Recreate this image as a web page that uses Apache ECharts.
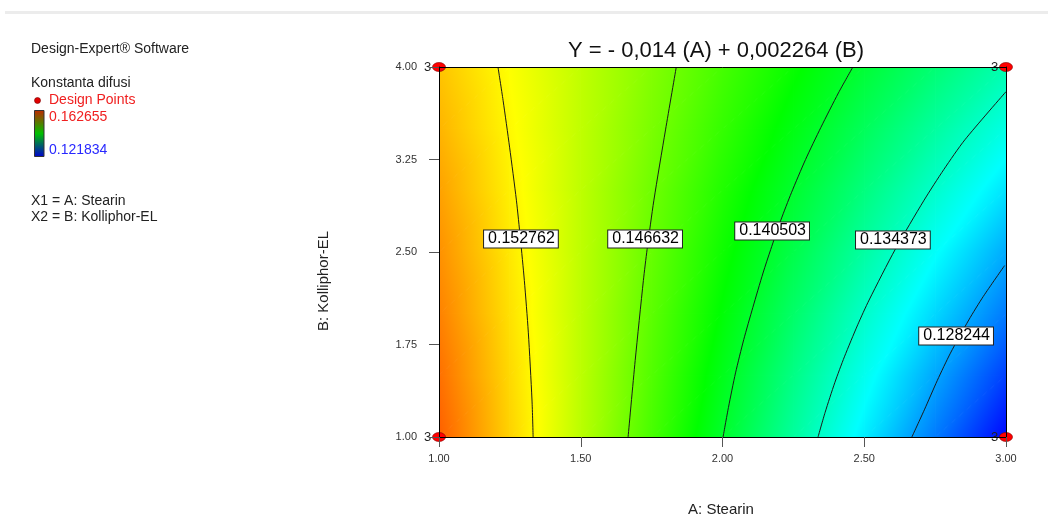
<!DOCTYPE html>
<html><head><meta charset="utf-8">
<script src="https://cdn.jsdelivr.net/npm/echarts@6/dist/echarts.min.js"></script>
<style>html,body{margin:0;padding:0;background:#fff}#c{width:1048px;height:518px}</style>
</head><body><div id="c"></div>
<script>
// ---- data ----
const stearinGrid = [1.00, 1.25, 1.50, 1.75, 2.00, 2.25, 2.50, 2.75, 3.00];
const kolliphorGrid = [1.0, 1.5, 2.0, 2.5, 3.0, 3.5, 4.0];
// response (Konstanta difusi) at each grid node, one row per Kolliphor level
const responseB10 = [0.15884, 0.15426, 0.14968, 0.14510, 0.14050, 0.13595, 0.13136, 0.12674, 0.12211];
const responseB15 = [0.15820, 0.15398, 0.14977, 0.14553, 0.14124, 0.13695, 0.13271, 0.12853, 0.12435];
const responseB20 = [0.15750, 0.15365, 0.14980, 0.14594, 0.14206, 0.13814, 0.13420, 0.13046, 0.12671];
const responseB25 = [0.15688, 0.15336, 0.14985, 0.14633, 0.14280, 0.13931, 0.13576, 0.13223, 0.12869];
const responseB30 = [0.15621, 0.15303, 0.14986, 0.14669, 0.14354, 0.14040, 0.13724, 0.13408, 0.13092];
const responseB35 = [0.15547, 0.15269, 0.14991, 0.14713, 0.14433, 0.14152, 0.13870, 0.13588, 0.13306];
const responseB40 = [0.15484, 0.15238, 0.14993, 0.14748, 0.14502, 0.14257, 0.14011, 0.13766, 0.13520];
const responseMin = 0.121834;
const responseMax = 0.162655;

const contourLevels = [0.152762, 0.146632, 0.140503, 0.134373, 0.128244];
const contour1 = [[1.208,4.00],[1.226,3.73],[1.249,3.35],[1.273,2.92],[1.287,2.61],[1.301,2.27],[1.315,1.85],[1.328,1.30],[1.332,1.00]];
const contour2 = [[1.837,4.00],[1.799,3.49],[1.758,2.92],[1.734,2.52],[1.721,2.27],[1.692,1.62],[1.667,1.00]];
const contour3 = [[2.460,4.00],[2.409,3.79],[2.347,3.51],[2.293,3.25],[2.243,2.98],[2.206,2.76],[2.170,2.52],[2.143,2.33],[2.107,2.05],[2.075,1.79],[2.046,1.52],[2.021,1.24],[2.002,1.00]];
const contour4 = [[3.000,3.80],[2.855,3.41],[2.781,3.17],[2.711,2.92],[2.609,2.52],[2.517,2.11],[2.477,1.91],[2.430,1.65],[2.396,1.44],[2.362,1.20],[2.337,1.00]];
const contour5 = [[2.995,2.39],[2.920,2.14],[2.869,1.95],[2.804,1.68],[2.758,1.46],[2.712,1.22],[2.668,1.00]];
const contourLabelA = [1.289, 1.727, 2.175, 2.601, 2.824];
const contourLabelB = [2.605, 2.605, 2.670, 2.597, 1.819];

const designA = [1, 3, 1, 3];
const designB = [1, 1, 4, 4];
const designReplicates = [3, 3, 3, 3];

// ---- build tables ----
const responseRows = [responseB10, responseB15, responseB20, responseB25, responseB30, responseB35, responseB40];
const triangles = [];
for (let j = 0; j < kolliphorGrid.length - 1; j++) {
  for (let i = 0; i < stearinGrid.length - 1; i++) {
    const a0 = stearinGrid[i], a1 = stearinGrid[i+1], b0 = kolliphorGrid[j], b1 = kolliphorGrid[j+1];
    const v00 = responseRows[j][i], v10 = responseRows[j][i+1], v01 = responseRows[j+1][i], v11 = responseRows[j+1][i+1];
    triangles.push([a0,b0,v00, a1,b0,v10, a1,b1,v11]);
    triangles.push([a0,b0,v00, a1,b1,v11, a0,b1,v01]);
  }
}
const cmapStops = [[0,[0,0,255]],[0.25,[0,255,255]],[0.5,[0,255,0]],[0.75,[255,255,0]],[1,[255,0,0]]];
function colorOf(v) {
  let t = (v - responseMin) / (responseMax - responseMin);
  t = Math.max(0, Math.min(1, t));
  for (let k = 0; k < cmapStops.length - 1; k++) {
    const [t0, c0] = cmapStops[k], [t1, c1] = cmapStops[k+1];
    if (t <= t1) {
      const f = (t - t0) / (t1 - t0);
      return 'rgb(' + c0.map((c, n) => Math.round(c + (c1[n] - c) * f)).join(',') + ')';
    }
  }
  return 'rgb(255,0,0)';
}
function renderTri(params, api) {
  const P = [], V = [];
  for (let k = 0; k < 3; k++) {
    P.push(api.coord([api.value(3*k), api.value(3*k+1)]));
    V.push(api.value(3*k+2));
  }
  const dx1 = P[1][0]-P[0][0], dy1 = P[1][1]-P[0][1], dv1 = V[1]-V[0];
  const dx2 = P[2][0]-P[0][0], dy2 = P[2][1]-P[0][1], dv2 = V[2]-V[0];
  const det = dx1*dy2 - dx2*dy1;
  const gb = (dv1*dy2 - dv2*dy1) / det, gc = (dx1*dv2 - dx2*dv1) / det;
  const gm = Math.hypot(gb, gc);
  let fill;
  if (gm < 1e-12) fill = colorOf(V[0]);
  else {
    const ux = gb/gm, uy = gc/gm;
    const s = P.map(p => p[0]*ux + p[1]*uy);
    let imin = 0, imax = 0;
    for (let k = 1; k < 3; k++) { if (s[k] < s[imin]) imin = k; if (s[k] > s[imax]) imax = k; }
    const L = s[imax] - s[imin];
    const vs = V[imin], ve = vs + gm * L;
    const stops = [{offset:0, color: colorOf(vs)}, {offset:1, color: colorOf(ve)}];
    [0.25,0.5,0.75].forEach(t => {
      const vb = responseMin + t*(responseMax-responseMin);
      if (vb > vs && vb < ve) stops.push({offset:(vb-vs)/(ve-vs), color: colorOf(vb)});
    });
    stops.sort((x,y) => x.offset - y.offset);
    const x0 = P[imin][0], y0 = P[imin][1];
    fill = new echarts.graphic.LinearGradient(x0, y0, x0 + ux*L, y0 + uy*L, stops, true);
  }
  return {type:'polygon', shape:{points:P}, style:{fill:fill, stroke:fill, lineWidth:1}};
}
const contours = [contour1, contour2, contour3, contour4, contour5];
const labelData = contourLevels.map((lv, k) => [contourLabelA[k], contourLabelB[k], lv]);
const designData = designA.map((a, k) => [a, designB[k], designReplicates[k]]);

const FONT = 'Liberation Sans, Arial, sans-serif';
const chart = echarts.init(document.getElementById('c'), null, {renderer:'canvas'});
const lineSeries = contours.map(c => ({
  type:'line', data:c, smooth:0.25, showSymbol:false, symbol:'none', z:3, silent:true,
  lineStyle:{color:'#1a1a1a', width:1}, animation:false
}));
chart.setOption({
  animation:false,
  textStyle:{fontFamily:FONT},
  grid:{left:439, right:42, top:67, bottom:81},
  xAxis:[{
    type:'value', min:1, max:3, interval:0.5, z:10,
    axisLine:{show:true, lineStyle:{color:'#000', width:1}},
    axisTick:{show:true, length:10, lineStyle:{color:'#555'}},
    axisLabel:{formatter:v => v.toFixed(2), fontSize:11, color:'#333', margin:16, fontFamily:FONT},
    splitLine:{show:false}
  },{
    type:'value', position:'top', min:1, max:3, z:10,
    axisLine:{show:true, lineStyle:{color:'#000', width:1}},
    axisTick:{show:false}, axisLabel:{show:false}, splitLine:{show:false}
  }],
  yAxis:[{
    type:'value', min:1, max:4, interval:0.75, z:10,
    axisLine:{show:true, lineStyle:{color:'#000', width:1}},
    axisTick:{show:true, length:10, lineStyle:{color:'#555'}},
    axisLabel:{formatter:v => v.toFixed(2), fontSize:11, color:'#333', margin:22, fontFamily:FONT},
    splitLine:{show:false}
  },{
    type:'value', position:'right', min:1, max:4, z:10,
    axisLine:{show:true, lineStyle:{color:'#000', width:1}},
    axisTick:{show:false}, axisLabel:{show:false}, splitLine:{show:false}
  }],
  graphic:[
    {type:'rect', shape:{x:5, y:11, width:1043, height:3}, style:{fill:'#ececec'}, silent:true},
    {type:'text', x:716, y:51, style:{text:'Y = - 0,014 (A) + 0,002264 (B)', font:'22px ' + FONT, fill:'#111', align:'center', verticalAlign:'middle'}},
    {type:'text', x:31, y:49, style:{text:'Design-Expert® Software', font:'14px ' + FONT, fill:'#222', verticalAlign:'middle'}},
    {type:'text', x:31, y:83, style:{text:'Konstanta difusi', font:'14px ' + FONT, fill:'#222', verticalAlign:'middle'}},
    {type:'circle', shape:{cx:37.5, cy:100.5, r:3}, style:{fill:'#e00000', stroke:'#700', lineWidth:0.6}},
    {type:'text', x:49, y:100, style:{text:'Design Points', font:'14px ' + FONT, fill:'#f02020', verticalAlign:'middle'}},
    {type:'rect', shape:{x:34.5, y:110.5, width:9.5, height:46},
      style:{fill:new echarts.graphic.LinearGradient(0,0,0,1,[{offset:0,color:'#c02800'},{offset:0.5,color:'#00c000'},{offset:1,color:'#0000d0'}]), stroke:'#333', lineWidth:1}},
    {type:'text', x:49, y:117, style:{text:'0.162655', font:'14px ' + FONT, fill:'#f02020', verticalAlign:'middle'}},
    {type:'text', x:49, y:150, style:{text:'0.121834', font:'14px ' + FONT, fill:'#2828ff', verticalAlign:'middle'}},
    {type:'text', x:31, y:201, style:{text:'X1 = A: Stearin', font:'14px ' + FONT, fill:'#222', verticalAlign:'middle'}},
    {type:'text', x:31, y:217, style:{text:'X2 = B: Kolliphor-EL', font:'14px ' + FONT, fill:'#222', verticalAlign:'middle'}},
    {type:'text', x:721, y:510, style:{text:'A: Stearin', font:'15px ' + FONT, fill:'#222', align:'center', verticalAlign:'middle'}},
    {type:'text', x:324, y:281, rotation:Math.PI/2, style:{text:'B: Kolliphor-EL', font:'15px ' + FONT, fill:'#222', align:'center', verticalAlign:'middle'}}
  ],
  series:[
    {type:'custom', data:triangles, renderItem:renderTri, z:1, silent:true, clip:true,
      encode:{x:[0,3,6], y:[1,4,7]}},
    ...lineSeries,
    {type:'scatter', data:labelData, symbolSize:1, z:5, silent:true,
      itemStyle:{color:'rgba(0,0,0,0)', opacity:1},
      label:{show:true, position:'inside', formatter:p => p.value[2].toFixed(6),
        fontSize:16, fontFamily:FONT, color:'#000', backgroundColor:'#ffffff', opacity:1,
        borderColor:'#222', borderWidth:1, padding:[1,3,0,4], lineHeight:16}},
    {type:'scatter', data:designData, symbol:'circle', symbolSize:[13,9], z:6, clip:false, silent:true,
      itemStyle:{color:'#ff0000', borderColor:'#800000', borderWidth:0.6, opacity:1},
      label:{show:true, position:'left', distance:1, formatter:p => String(p.value[2]),
        fontSize:13, fontFamily:FONT, color:'#222'}}
  ]
});
</script></body></html>
